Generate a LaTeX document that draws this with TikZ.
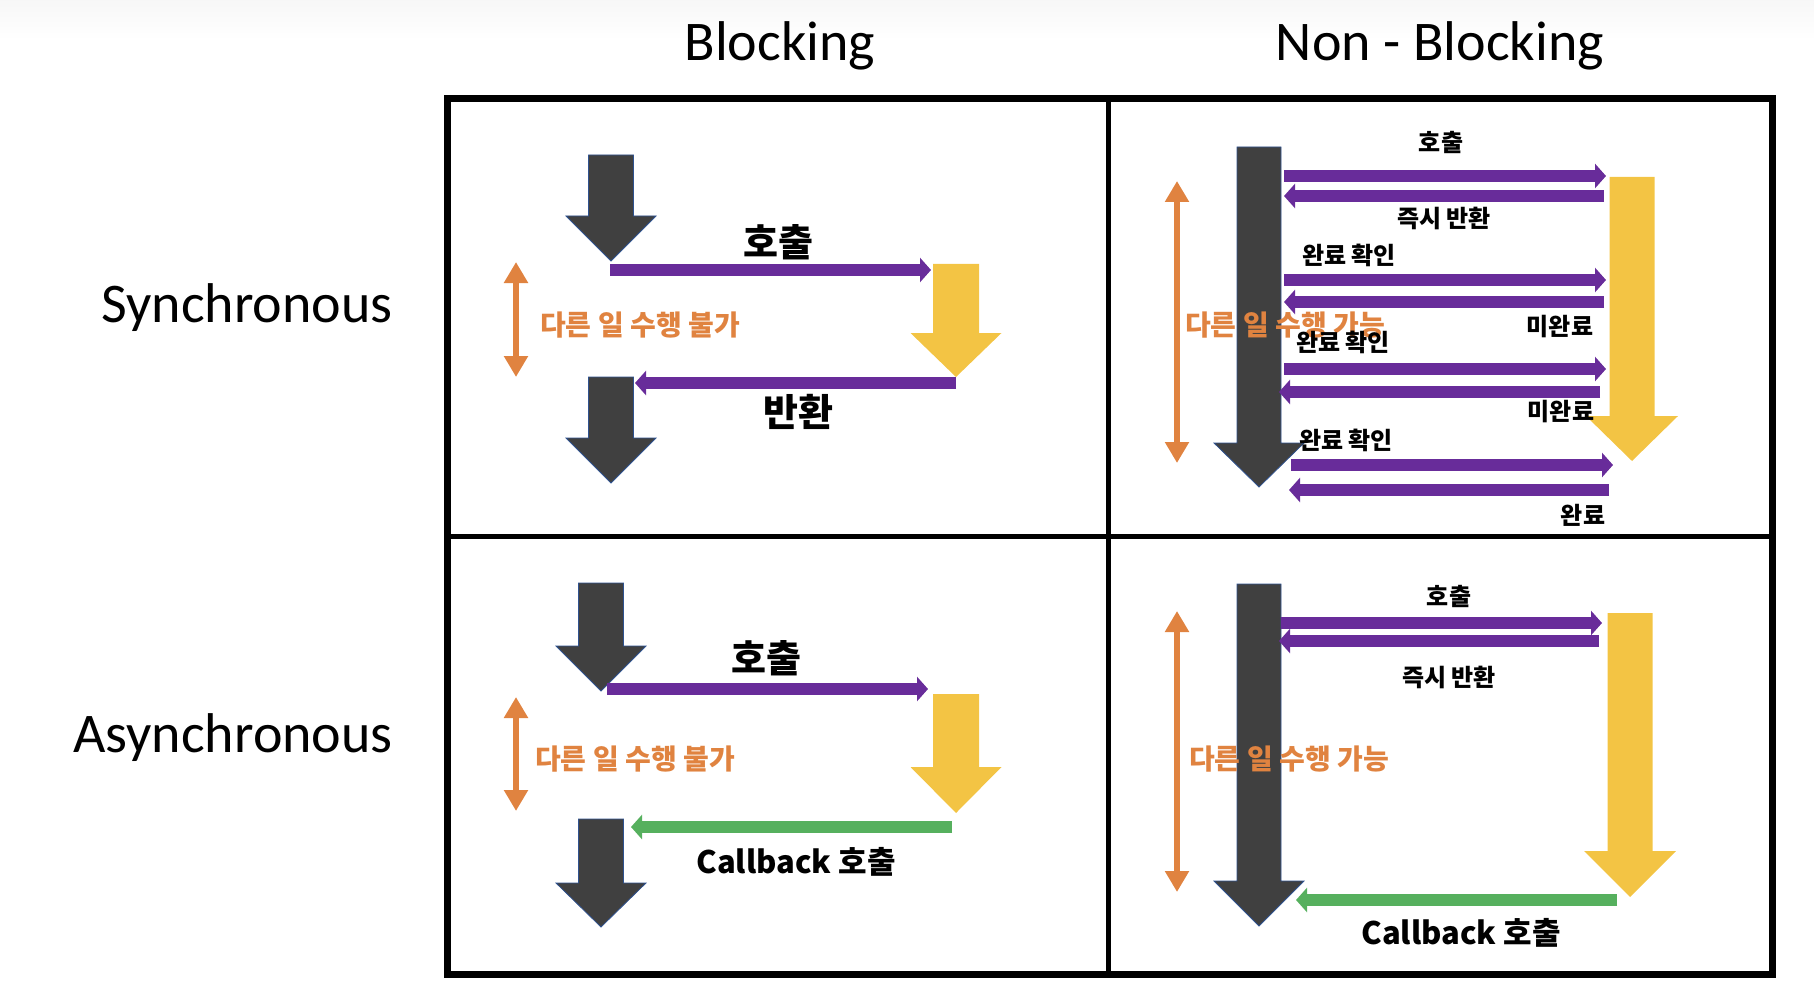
\documentclass[tikz,border=0pt]{standalone}
\usepackage{fontspec}
\usetikzlibrary{arrows.meta}
\newfontfamily\kr{Noto Sans CJK KR}
\newfontfamily\hd{Carlito}
\definecolor{darkg}{RGB}{64,64,64}
\definecolor{darkedge}{RGB}{47,82,143}
\definecolor{yel}{RGB}{243,196,68}
\definecolor{purp}{RGB}{104,44,154}
\definecolor{org}{RGB}{224,131,64}
\definecolor{grn}{RGB}{86,176,94}
\newcommand\BlkDown[7]{%
  \path[#1] (#2-#6,#3) -- (#2+#6,#3) -- (#2+#6,#4) -- (#2+#7,#4) -- (#2,#5) -- (#2-#7,#4) -- (#2-#6,#4) -- cycle;}
\tikzset{
  darkarrow/.style={fill=darkg, draw=darkedge, line width=0.8pt},
  yelarrow/.style={fill=yel},
  parrow/.style={draw=purp, line width=12pt, -{Triangle[width=24pt,length=11pt]}},
  garrow/.style={draw=grn, line width=12pt, -{Triangle[width=24pt,length=11pt]}},
  oarrow/.style={draw=org, line width=6pt, {Triangle[width=23pt,length=21pt]}-{Triangle[width=23pt,length=21pt]}},
  big/.style={font=\kr\bfseries\fontsize{38pt}{40pt}\selectfont, inner sep=0pt},
  small/.style={font=\kr\bfseries\fontsize{24pt}{26pt}\selectfont, inner sep=0pt},
  cb/.style={font=\kr\bfseries\fontsize{31pt}{33pt}\selectfont, inner sep=0pt},
  otext/.style={font=\kr\bfseries\fontsize{28pt}{30pt}\selectfont, text=org, inner sep=0pt, anchor=west},
  head/.style={font=\hd\fontsize{56pt}{60pt}\selectfont, inner sep=0pt, anchor=base},
}
\begin{document}
\begin{tikzpicture}[x=1pt,y=-1pt]
\useasboundingbox (0,0) rectangle (1814,1000);
\shade[top color=black!3, bottom color=white] (0,0) rectangle (1814,40);
% headers
\node[head] (hblk) at (780,61) {Blocking};
\node[head] (hnb) at (1440,61) {Non - Blocking};
\node[head, anchor=base east] (hsync) at (393,322) {Synchronous};
\node[head, anchor=base east] (hasync) at (393,752) {Asynchronous};
% grid
\draw[line width=5pt] (1108,99) -- (1108,974);
\draw[line width=5pt] (447,536) -- (1772,536);
\draw[line width=7pt] (447,99) rectangle (1772,974);

% ---------- top-left ----------
\draw[oarrow] (516,262) -- (516,377);
\BlkDown{darkarrow}{611}{155}{216}{261}{22.5}{45}
\BlkDown{darkarrow}{611}{377}{438}{483}{22.5}{45}
\BlkDown{yelarrow}{956}{264}{333}{377}{23}{45.5}
\coordinate (tl1s) at (610,270); \coordinate (tl1e) at (931,270);
\coordinate (tl2s) at (956,383); \coordinate (tl2e) at (635,383);
\draw[parrow] (tl1s) -- (tl1e);
\draw[parrow] (tl2s) -- (tl2e);
\node[big] (tlcall) at (778,242) {호출};
\node[big] (tlret) at (798,412) {반환};
\node[otext] (tlo) at (540,325) {다른 일 수행 불가};

% ---------- top-right ----------
\draw[oarrow] (1177,181) -- (1177,463);
\BlkDown{darkarrow}{1259}{147}{443}{487}{22}{45}
\BlkDown{yelarrow}{1632}{177}{416}{461}{22.5}{46}
\coordinate (a1s) at (1284,176); \coordinate (a1e) at (1606,176);
\coordinate (b1s) at (1604,196); \coordinate (b1e) at (1284,196);
\coordinate (a2s) at (1284,280); \coordinate (a2e) at (1606,280);
\coordinate (b2s) at (1604,302); \coordinate (b2e) at (1284,302);
\coordinate (a3s) at (1284,369); \coordinate (a3e) at (1606,369);
\coordinate (b3s) at (1600,392); \coordinate (b3e) at (1279,392);
\coordinate (a4s) at (1291,465); \coordinate (a4e) at (1613,465);
\coordinate (b4s) at (1609,490); \coordinate (b4e) at (1289,490);
\foreach \p in {a1,b1,a2,b2,a3,b3,a4,b4} {\draw[parrow] (\p s) -- (\p e);}
\node[small] (trcall) at (1441,142) {호출};
\node[small] (trret) at (1444,218) {즉시 반환};
\node[small] (trc1) at (1349,255) {완료 확인};
\node[small] (trn1) at (1560,327) {미완료};
\node[otext] (tro) at (1185,325) {다른 일 수행 가능};
\node[small] (trc2) at (1343,342) {완료 확인};
\node[small] (trn2) at (1561,412) {미완료};
\node[small] (trc3) at (1346,440) {완료 확인};
\node[small] (trdone) at (1583,515) {완료};

% ---------- bottom-left ----------
\draw[oarrow] (516,697) -- (516,811);
\BlkDown{darkarrow}{601}{583}{646}{691}{22.5}{45}
\BlkDown{darkarrow}{601}{819}{883}{927}{22.5}{45}
\BlkDown{yelarrow}{956}{694}{767}{813}{23}{45.5}
\coordinate (bl1s) at (607,689); \coordinate (bl1e) at (928,689);
\coordinate (bl2s) at (952,827); \coordinate (bl2e) at (631,827);
\draw[parrow] (bl1s) -- (bl1e);
\draw[garrow] (bl2s) -- (bl2e);
\node[big] (blcall) at (766,658) {호출};
\node[cb] (blcb) at (796,862) {Callback 호출};
\node[otext] (blo) at (535,759) {다른 일 수행 불가};

% ---------- bottom-right ----------
\draw[oarrow] (1177,611) -- (1177,892);
\BlkDown{darkarrow}{1259}{584}{881}{926}{22}{45}
\BlkDown{yelarrow}{1630}{613}{851}{897}{22.5}{46}
\coordinate (br1s) at (1281,623); \coordinate (br1e) at (1602,623);
\coordinate (br2s) at (1599,641); \coordinate (br2e) at (1279,641);
\coordinate (br3s) at (1617,900); \coordinate (br3e) at (1296,900);
\draw[parrow] (br1s) -- (br1e);
\draw[parrow] (br2s) -- (br2e);
\draw[garrow] (br3s) -- (br3e);
\node[small] (brcall) at (1449,596) {호출};
\node[small] (brret) at (1449,677) {즉시 반환};
\node[otext] (bro) at (1189,759) {다른 일 수행 가능};
\node[cb] (brcb) at (1461,933) {Callback 호출};
\end{tikzpicture}
\end{document}
